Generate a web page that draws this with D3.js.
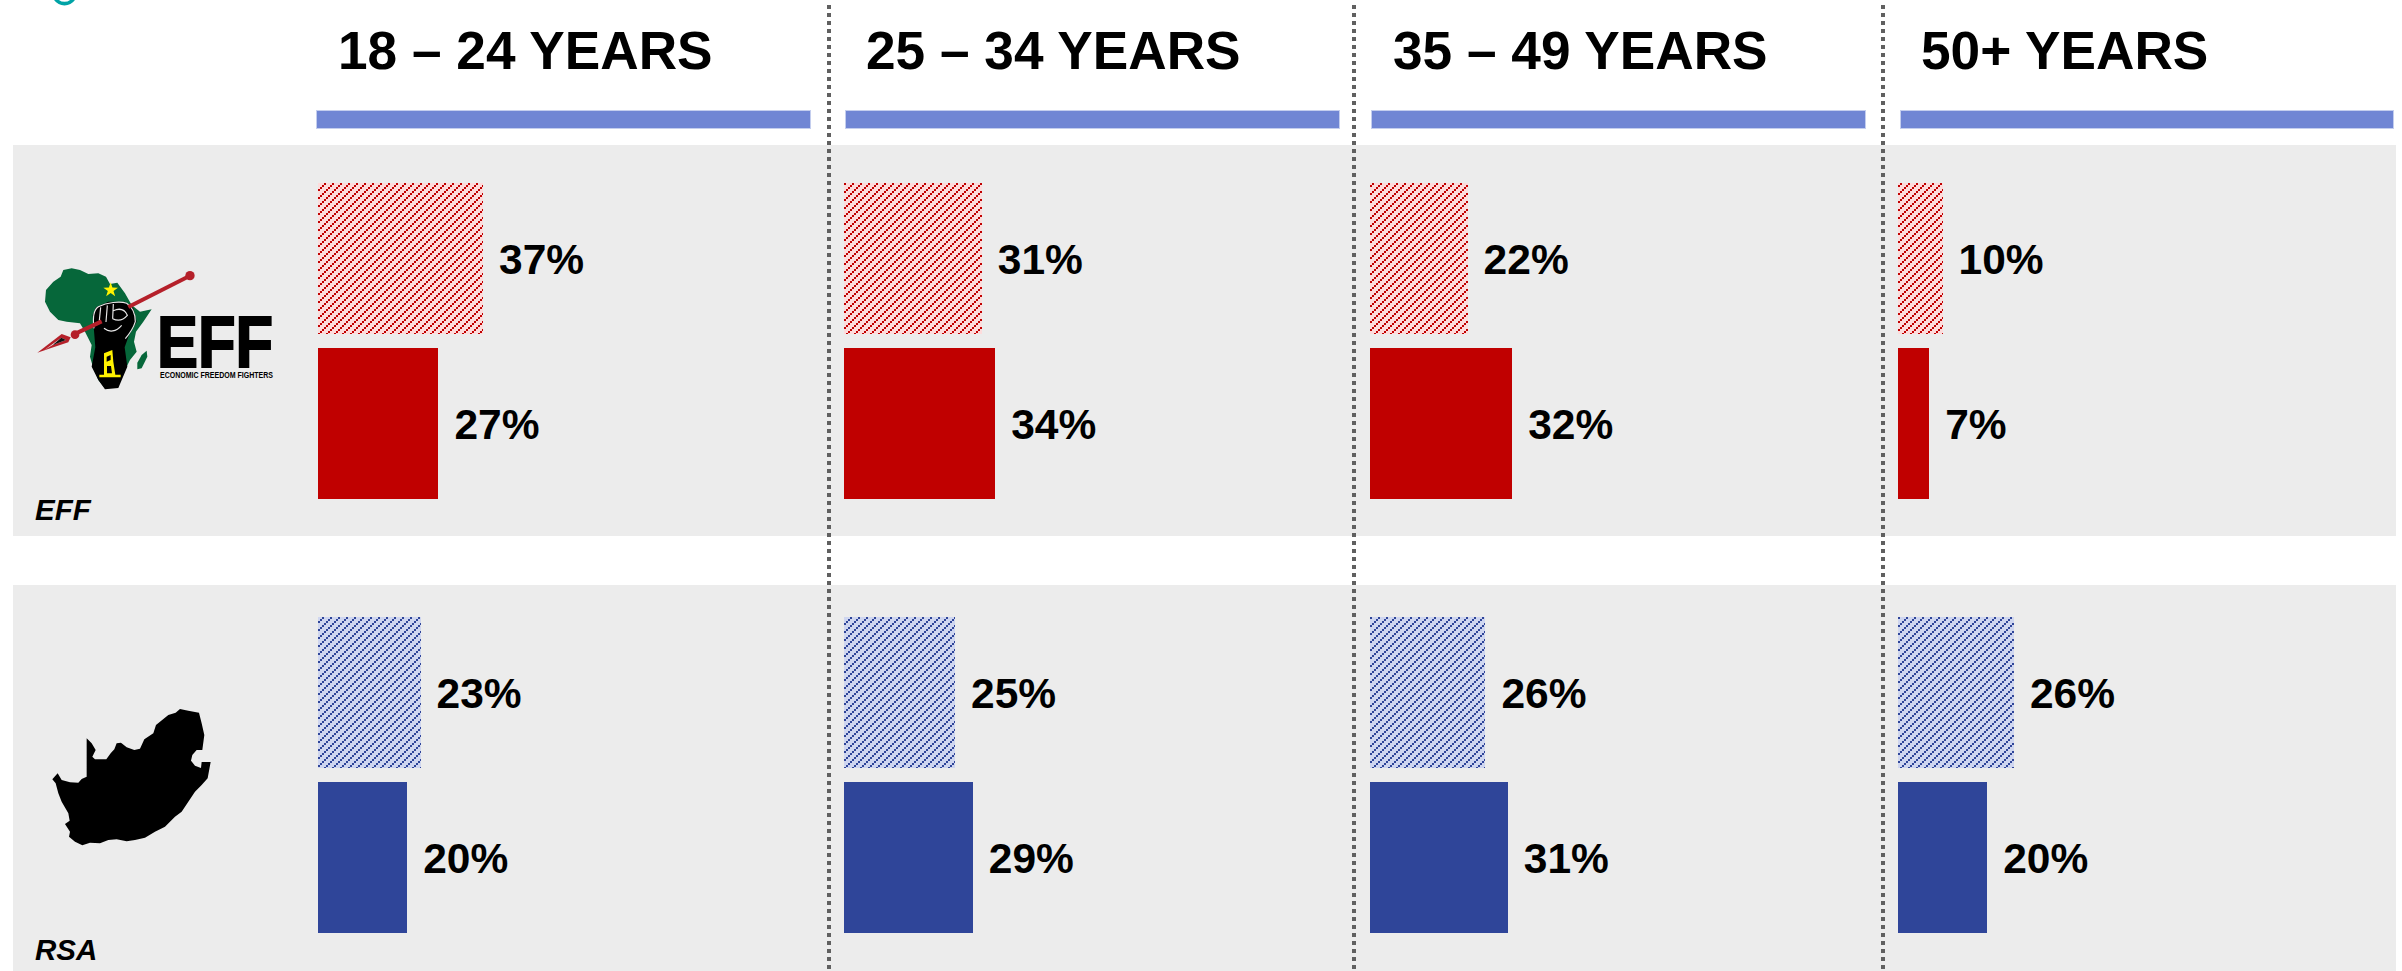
<!DOCTYPE html>
<html>
<head>
<meta charset="utf-8">
<script src="https://cdn.jsdelivr.net/npm/d3@7/dist/d3.min.js"></script>
<style>
html,body{margin:0;padding:0;background:#fff;overflow:hidden}
svg{display:block}
text{font-family:"Liberation Sans",Arial,sans-serif;fill:#000}
</style>
</head>
<body>
<svg id="chart" width="2402" height="971"></svg>
<script>
// ---- data ----
const categories = ["18 – 24 YEARS", "25 – 34 YEARS", "35 – 49 YEARS", "50+ YEARS"];
const effHatched = [37, 31, 22, 10];
const effSolid   = [27, 34, 32, 7];
const rsaHatched = [23, 25, 26, 26];
const rsaSolid   = [20, 29, 31, 20];
const groupLabels = ["EFF", "RSA"];

// ---- layout ----
const H = 971, panelLeft = 13, panelRight = 2396;
const svg = d3.select("#chart");
const x0 = d3.scaleOrdinal().domain(categories).range([318, 843.5, 1369.5, 1898]);
const len = d3.scaleLinear().domain([0, 100]).range([0, 446]);
const barH = 150.5;

const headerBars = [[316, 811], [845, 1340], [1371, 1866], [1900, 2394]];
const headerTextX = [338, 866, 1393, 1921];
const dividers = [829, 1354, 1883];
const panels = [[145, 536], [585, 971]];

const rows = [
  {values: effHatched, y: 183, fill: "url(#hatchRed)"},
  {values: effSolid,   y: 348, fill: "#C00000"},
  {values: rsaHatched, y: 617, fill: "url(#hatchBlue)"},
  {values: rsaSolid,   y: 782, fill: "#2F4599"}
];

// ---- patterns ----
const defs = svg.append("defs");
function hatch(id, ox, oy, bg, fg) {
  const p = defs.append("pattern").attr("id", id)
    .attr("patternUnits", "userSpaceOnUse")
    .attr("x", ox).attr("y", oy).attr("width", 8).attr("height", 8);
  p.append("rect").attr("width", 8).attr("height", 8).attr("fill", bg);
  [[6, 0], [4, 2], [2, 4], [0, 6]].forEach(([a, b]) =>
    p.append("rect").attr("x", a).attr("y", b).attr("width", 2).attr("height", 2).attr("fill", fg));
}
hatch("hatchRed", 318, 183, "#FDDCDC", "#C00000");
hatch("hatchBlue", 316, 617, "#CFD6F0", "#2F4599");

// ---- background panels ----
svg.append("g").selectAll("rect").data(panels).join("rect")
  .attr("x", panelLeft).attr("y", d => d[0]).attr("width", panelRight - panelLeft).attr("height", d => d[1] - d[0])
  .attr("fill", "#ECECEC");

// ---- teal fragment at the top edge ----
svg.append("path").attr("d", "M55.5,-1 C60,5.2 69,5.2 73.5,-1")
  .attr("fill", "none").attr("stroke", "#00A3A6").attr("stroke-width", 3.6);

// ---- header bars and titles ----
svg.append("g").selectAll("rect").data(headerBars).join("rect")
  .attr("x", d => d[0] + .5).attr("y", 110.5).attr("width", d => d[1] - d[0] - 1).attr("height", 18)
  .attr("fill", "#7086D4").attr("stroke", "#C4CEEE").attr("stroke-width", 1);

svg.append("g").selectAll("text").data(categories).join("text")
  .attr("x", (d, i) => headerTextX[i]).attr("y", 69)
  .attr("font-size", 53.2).attr("font-weight", 700).text(d => d);

// ---- bars and value labels ----
rows.forEach(r => {
  const g = svg.append("g");
  g.selectAll("rect").data(r.values).join("rect")
    .attr("x", (d, i) => x0(categories[i]))
    .attr("y", r.y).attr("height", barH)
    .attr("width", d => len(d))
    .attr("fill", r.fill)
    .attr("shape-rendering", "crispEdges");
  g.selectAll("text").data(r.values).join("text")
    .attr("x", (d, i) => x0(categories[i]) + len(d) + 16)
    .attr("y", r.y + barH / 2 + 16)
    .attr("font-size", 42.5).attr("font-weight", 700)
    .text(d => d + "%");
});

// ---- dotted dividers ----
svg.append("g").selectAll("line").data(dividers).join("line")
  .attr("x1", d => d).attr("x2", d => d).attr("y1", 5).attr("y2", H)
  .attr("stroke", "#606060").attr("stroke-width", 4).attr("stroke-dasharray", "4 4");

// ---- group labels ----
svg.append("g").selectAll("text").data(groupLabels).join("text")
  .attr("x", 35).attr("y", (d, i) => [520, 960][i])
  .attr("font-size", 29.5).attr("font-weight", 700).attr("font-style", "italic")
  .text(d => d);

// ---- South Africa icon ----
const rsaIcon = [[22,238],[38,220],[50,240],[75,247],[100,248],[110,237],[125,230],[125,115],[140,130],[152,150],[142,170],[150,178],[184,178],[197,160],[208,148],[215,130],[228,128],[245,142],[268,150],[285,146],[298,118],[325,100],[333,75],[370,45],[392,38],[405,27],[430,32],[462,38],[470,70],[478,105],[472,150],[455,150],[442,165],[438,182],[450,197],[468,204],[470,186],[497,186],[488,235],[470,255],[450,275],[430,305],[410,335],[390,350],[360,380],[330,395],[300,413],[270,420],[245,424],[215,418],[190,420],[165,430],[135,428],[112,436],[90,425],[72,410],[75,395],[60,372],[74,362],[70,340],[50,305],[40,280],[32,250]];
svg.append("path")
  .attr("transform", "translate(45,700) scale(0.3333)")
  .attr("d", d3.line()(rsaIcon) + "Z")
  .attr("fill", "#000");

// ---- EFF logo ----
const logo = svg.append("g").attr("transform", "translate(30,260) scale(0.3333)");
const curve = d3.line().curve(d3.curveLinearClosed);
const africa = [[45,125],[48,90],[70,65],[92,50],[100,30],[125,25],[150,30],[175,42],[205,40],[228,50],[240,72],[262,68],[285,100],[305,135],[330,155],[365,148],[340,185],[318,215],[312,245],[320,275],[300,300],[290,320],[270,345],[265,380],[225,385],[205,360],[188,318],[180,290],[185,255],[165,215],[150,190],[110,185],[85,180],[60,155]];
const madagascar = [[350,272],[352,290],[335,325],[322,328],[322,308],[335,285]];
const fist = [[188,165],[198,142],[235,125],[285,125],[310,145],[320,185],[296,228],[284,262],[292,320],[265,384],[225,388],[205,360],[185,320],[196,262],[192,212]];
const star = d3.range(10).map(i => {
  const r = i % 2 ? 9 : 23, a = -Math.PI / 2 + i * Math.PI / 5;
  return [242 + r * Math.cos(a), 90 + r * Math.sin(a)];
});
logo.append("path").attr("d", curve(africa)).attr("fill", "#06673A");
logo.append("path").attr("d", curve(madagascar)).attr("fill", "#06673A");
logo.append("path").attr("d", curve(star)).attr("fill", "#FFF200");
logo.append("path").attr("d", curve(fist)).attr("fill", "#000");
// fist outline and fingers
logo.append("path")
  .attr("d", "M192,205 C188,175 190,150 205,140 C230,128 270,122 290,130 C308,142 316,165 316,185 C310,205 298,222 286,236 M212,142 L208,182 M232,136 L228,186 M250,132 L248,176 M250,152 C268,144 284,148 292,166 C280,180 264,184 248,176 M222,205 C238,218 258,216 275,196")
  .attr("fill", "none").attr("stroke", "#E8E8E8").attr("stroke-width", 3.5);
// spear
logo.append("line").attr("x1", 130).attr("y1", 224).attr("x2", 215).attr("y2", 184)
  .attr("stroke", "#B5202A").attr("stroke-width", 12);
logo.append("line").attr("x1", 295).attr("y1", 141).attr("x2", 480).attr("y2", 47)
  .attr("stroke", "#B5202A").attr("stroke-width", 12);
logo.append("circle").attr("cx", 480).attr("cy", 47).attr("r", 14).attr("fill", "#B5202A");
logo.append("circle").attr("cx", 135).attr("cy", 224).attr("r", 13).attr("fill", "#B5202A");
logo.append("path").attr("d", curve([[22,278],[95,222],[122,232],[115,247],[70,262]])).attr("fill", "#B5202A");
logo.append("path").attr("d", curve([[42,271],[94,233],[108,240],[68,255]])).attr("fill", "#ECECEC");
logo.append("path").attr("d", curve([[68,255],[94,233],[108,240]])).attr("fill", "#111");
// yellow headgear
logo.append("path")
  .attr("d", "M208,352 L272,352 L272,344 L256,344 L250,305 L247,270 L222,280 L222,344 L208,344 Z M230,290 L242,285 L242,300 L230,305 Z M231,318 L243,318 L246,340 L231,340 Z")
  .attr("fill", "#FFF200").attr("fill-rule", "evenodd");

// logo wordmark
svg.append("text").attr("x", 157).attr("y", 366.5)
  .attr("font-size", 73).attr("font-weight", 700)
  .attr("textLength", 116).attr("lengthAdjust", "spacingAndGlyphs")
  .attr("stroke", "#000").attr("stroke-width", 2)
  .text("EFF");
svg.append("text").attr("x", 160).attr("y", 378)
  .attr("font-size", 8.4).attr("font-weight", 700)
  .attr("textLength", 113).attr("lengthAdjust", "spacingAndGlyphs")
  .attr("fill", "#222")
  .text("ECONOMIC FREEDOM FIGHTERS");
</script>
</body>
</html>
